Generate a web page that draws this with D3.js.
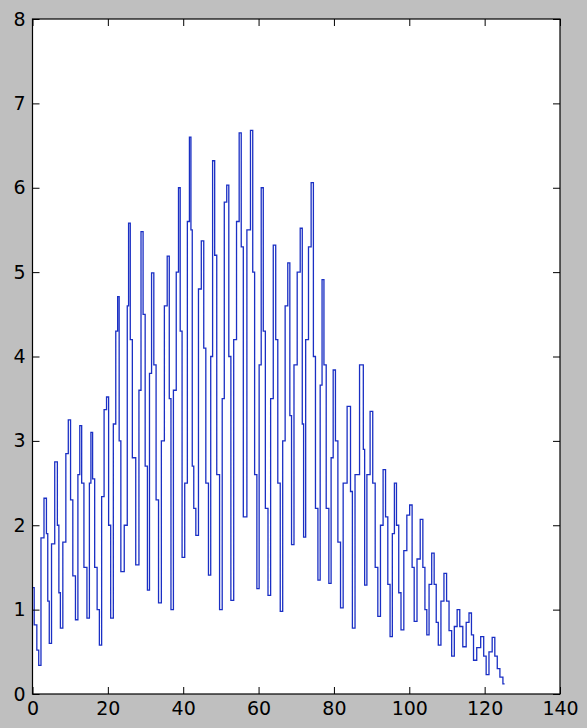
<!DOCTYPE html>
<html>
<head>
<meta charset="utf-8">
<script src="https://cdnjs.cloudflare.com/ajax/libs/d3/7.8.5/d3.min.js"></script>
<style>
  html, body { margin: 0; padding: 0; background: #bfbfbf; }
  #chart { width: 587px; height: 728px; }
  .tick text { font-family: "DejaVu Sans", sans-serif; font-size: 19px; fill: #000; }
  .tick line { stroke: #000; }
</style>
</head>
<body>
<div id="chart"></div>
<script>
(function(){
  'use strict';

  var xTicks = [0, 20, 40, 60, 80, 100, 120, 140],
      yTicks = [0, 1, 2, 3, 4, 5, 6, 7, 8];

  // points, in order along the trace
  var xVals = [
    0, 0.9, 1.4, 1.9, 2.6, 3.5, 3.9, 4.2, 4.7,
    5.4, 6.4, 6.8, 7.2, 7.6,
    8.5, 9.2, 9.8, 10.4, 11.0, 11.8,
    12.3, 12.8, 13.3, 14.0, 14.9,
    15.3, 15.7, 16.2, 16.8, 17.5, 18.0,
    18.7, 19.3, 20.0, 20.4, 21.1,
    21.8, 22.4, 22.8, 23.2, 23.7,
    25.0, 25.3, 25.7, 26.2, 26.8, 28.0,
    28.5, 29.1, 29.6, 30.2, 30.8,
    31.3, 31.9, 32.5, 33.1, 33.8,
    34.6, 35.4, 36.1, 36.5, 37.0,
    37.8, 38.5, 39.0, 39.4, 40.0,
    40.8, 41.4, 41.9, 42.2, 42.6, 43.0, 43.7,
    44.4, 45.2, 45.7, 46.3, 47.1,
    47.5, 48.1, 48.6, 49.2, 50.1,
    50.6, 51.2, 51.9, 52.3, 53.0,
    53.8, 54.5, 55.2, 55.6, 56.3,
    57.5, 58.2, 58.7, 59.2, 59.9,
    60.4, 61.0, 61.5, 62.1, 62.9,
    63.5, 64.3, 64.8, 65.4, 66.1,
    66.7, 67.4, 68.1, 68.5, 69.0,
    69.8, 70.7, 71.4, 71.8, 72.1,
    72.9, 73.6, 74.3, 74.8, 75.4, 76.1,
    76.6, 77.1, 77.6, 78.3, 79.0,
    79.5, 80.1, 80.7, 81.4, 82.1,
    82.8, 84.2, 84.6, 85.2,
    86.0, 87.6, 88.0, 88.3,
    89.2, 90.0, 90.6, 91.3, 92.0,
    92.7, 93.4, 94.0, 94.6, 95.2,
    95.8, 96.3, 96.9, 97.5, 98.1,
    99.0, 99.7, 100.5, 101.0, 101.6,
    102.5, 103.3, 103.9, 104.4, 104.9,
    105.6, 106.3, 106.9, 107.4, 108.0,
    108.8, 109.6, 110.2, 110.9, 111.6,
    112.3, 113.1, 113.7, 114.7,
    115.5, 116.2, 116.8, 117.3,
    118.5, 119.4, 120.1, 120.7,
    121.6, 122.4, 123.0, 123.7, 124.4, 125.3
  ];

  var yVals = [
    1.26, 0.82, 0.52, 0.34, 1.85, 2.32, 1.9, 1.1, 0.6,
    1.78, 2.75, 2.0, 1.2, 0.78,
    1.8, 2.85, 3.25, 2.3, 1.4, 0.88,
    2.6, 3.18, 2.5, 1.5, 0.9,
    2.5, 3.1, 2.55, 1.5, 1.0, 0.58,
    2.34, 3.37, 3.52, 2.0, 0.9,
    3.2, 4.3, 4.71, 3.0, 1.45,
    2.0, 4.6, 5.58, 4.2, 2.8, 1.53,
    3.6, 5.48, 4.5, 2.7, 1.23,
    3.8, 4.99, 3.9, 2.3, 1.08,
    3.0, 4.6, 5.19, 3.5, 1.0,
    3.6, 5.0, 6.0, 4.3, 1.62,
    2.5, 5.6, 6.6, 5.5, 2.7, 2.2, 1.88,
    4.8, 5.37, 4.1, 2.5, 1.41,
    4.0, 6.32, 5.2, 2.6, 1.0,
    3.5, 5.83, 6.03, 4.0, 1.11,
    4.2, 5.6, 6.65, 5.3, 2.1,
    5.5, 6.68, 5.0, 2.6, 1.25,
    3.9, 6.0, 4.3, 2.2, 1.17,
    3.5, 5.32, 4.2, 2.5, 0.98,
    3.0, 4.6, 5.11, 3.3, 1.77,
    3.9, 5.0, 5.52, 3.2, 1.86,
    4.2, 5.3, 6.06, 4.0, 2.2, 1.35,
    3.66, 4.91, 3.9, 2.2, 1.31,
    2.8, 3.84, 3.0, 1.8, 1.02,
    2.5, 3.41, 2.4, 0.78,
    2.6, 3.9, 2.9, 1.29,
    2.6, 3.35, 2.5, 1.5, 0.92,
    2.0, 2.66, 2.1, 1.3, 0.68,
    1.9, 2.5, 2.0, 1.2, 0.76,
    1.7, 2.12, 2.24, 1.5, 0.86,
    1.6, 2.07, 1.5, 1.0, 0.70,
    1.3, 1.67, 1.3, 0.85, 0.58,
    1.1, 1.43, 1.1, 0.75, 0.45,
    0.8, 1.0, 0.8, 0.56,
    0.85, 0.96, 0.7, 0.40,
    0.55, 0.68, 0.45, 0.23,
    0.5, 0.67, 0.45, 0.3, 0.2, 0.12
  ];

  var w = 587,
      h = 728,
      left = 32.5,
      right = 560,
      top = 19,
      bottom = 694;

  var svg = d3.select('#chart').append('svg')
    .attr('width', w)
    .attr('height', h);

  var x = d3.scaleLinear()
      .domain([0, 140])
      .range([left, right]),
    y = d3.scaleLinear()
      .domain([0, 8])
      .range([bottom, top]);

  svg.append('rect')
    .attr('x', left)
    .attr('y', top)
    .attr('width', right - left)
    .attr('height', bottom - top)
    .style('fill', '#fff');

  var pts = xVals.map(function(d, i) { return [d, yVals[i]]; });

  // the trace climbs and falls in near-vertical steps
  var line = d3.line()
    .curve(d3.curveStep)
    .x(function(d) { return x(d[0]); })
    .y(function(d) { return y(d[1]); });

  svg.append('path')
    .datum(pts)
    .attr('d', line)
    .style('fill', 'none')
    .style('stroke', '#1a2fc4')
    .style('stroke-width', 1.3);

  var xAxis = d3.axisBottom(x).tickValues(xTicks).tickSize(-7).tickPadding(8),
      xTop = d3.axisTop(x).tickValues(xTicks).tickSize(-7).tickFormat(''),
      yAxis = d3.axisLeft(y).tickValues(yTicks).tickSize(-7).tickPadding(7),
      yRight = d3.axisRight(y).tickValues(yTicks).tickSize(-7).tickFormat('');

  svg.append('g').attr('class', 'x axis')
    .attr('transform', 'translate(0,' + bottom + ')')
    .call(xAxis);
  svg.append('g').attr('class', 'x axis top')
    .attr('transform', 'translate(0,' + top + ')')
    .call(xTop);
  svg.append('g').attr('class', 'y axis')
    .attr('transform', 'translate(' + left + ',0)')
    .call(yAxis);
  svg.append('g').attr('class', 'y axis right')
    .attr('transform', 'translate(' + right + ',0)')
    .call(yRight);

  svg.selectAll('.domain').remove();

  svg.append('rect')
    .attr('x', left)
    .attr('y', top)
    .attr('width', right - left)
    .attr('height', bottom - top)
    .style('fill', 'none')
    .style('stroke', '#000')
    .style('stroke-width', 1.2);

}());
</script>
</body>
</html>
